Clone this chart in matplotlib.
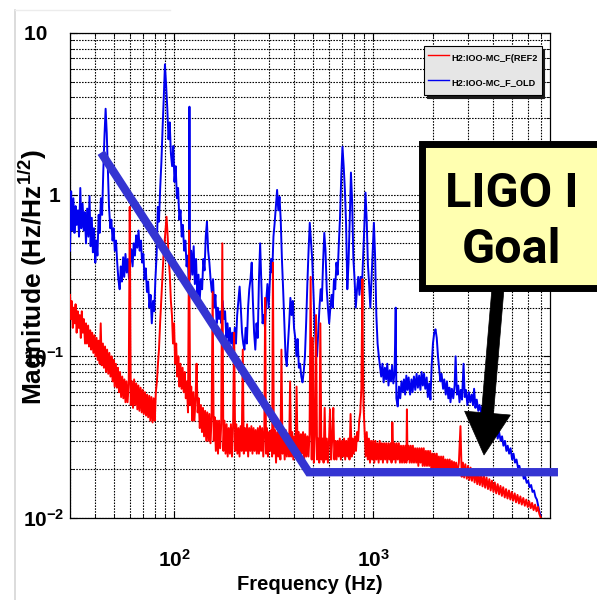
import numpy as np
import matplotlib
matplotlib.use("Agg")
import matplotlib.pyplot as plt
from matplotlib.patches import Rectangle, Polygon
from matplotlib.lines import Line2D
from matplotlib.ticker import LogLocator, NullFormatter

plt.rcParams['mathtext.fontset'] = 'custom'
plt.rcParams['mathtext.rm'] = 'Liberation Sans:bold'
plt.rcParams['mathtext.it'] = 'Liberation Sans:bold'
plt.rcParams['mathtext.bf'] = 'Liberation Sans:bold'
plt.rcParams['font.family'] = ['Liberation Sans', 'DejaVu Sans']

# ---------------- data ----------------
old_trace = [  # H2:IOO-MC_F_OLD (blue): (frequency Hz, magnitude)
    (30.0, 0.45), (30.4, 1.05), (30.8, 0.60), (31.2, 0.95), (31.6, 0.58), (32.0, 0.85),
    (32.4, 0.65), (32.9, 0.80), (33.3, 0.55), (33.8, 1.10), (34.2, 0.62), (34.7, 0.88),
    (35.2, 0.60), (35.6, 0.78), (36.1, 0.50), (36.6, 0.82), (37.1, 0.55), (37.6, 0.98),
    (38.1, 0.48), (38.6, 0.72), (39.1, 0.44), (39.6, 0.62), (40.2, 0.38), (40.7, 0.52),
    (41.2, 0.42), (41.8, 0.75), (42.3, 0.58), (42.9, 0.95), (43.5, 0.75), (44.1, 1.40),
    (44.7, 2.30), (45.3, 3.40), (45.9, 2.40), (46.5, 1.40), (47.1, 0.85), (47.8, 0.62),
    (48.4, 0.70), (49.1, 0.52), (49.7, 0.62), (50.4, 0.45), (51.1, 0.52), (51.8, 0.38),
    (52.5, 0.30), (53.3, 0.26), (54.0, 0.36), (54.7, 0.29), (55.5, 0.41), (56.2, 0.31),
    (57.0, 0.43), (57.8, 0.33), (58.6, 0.40), (59.4, 0.30), (60.2, 0.38), (61.0, 0.46),
    (61.9, 0.36), (62.7, 0.50), (63.6, 0.42), (64.5, 0.56), (65.4, 0.47), (66.3, 0.60),
    (67.2, 0.45), (68.2, 0.52), (69.1, 0.38), (70.1, 0.43), (71.1, 0.30), (72.1, 0.35),
    (73.1, 0.25), (74.1, 0.29), (75.2, 0.20), (76.2, 0.24), (77.3, 0.16), (78.4, 0.22),
    (79.5, 0.19), (80.6, 0.30), (81.7, 0.42), (82.9, 0.84), (84.0, 0.68), (85.2, 1.10),
    (86.4, 1.60), (87.6, 2.60), (88.8, 4.00), (90.0, 6.40), (91.2, 4.80), (92.5, 3.40),
    (93.8, 2.20), (95.1, 2.80), (96.4, 1.80), (97.8, 1.50), (99.1, 2.00), (100.5, 1.20),
    (101.9, 1.50), (103.4, 0.95), (104.8, 1.10), (106.3, 0.70), (107.8, 0.80), (109.3, 0.55),
    (110.8, 0.65), (112.4, 0.45), (114.0, 0.52), (115.6, 0.36), (117.2, 0.42), (118.8, 0.26),
    (119.5, 3.50), (120.3, 0.30), (122.0, 0.45), (123.7, 0.32), (125.5, 0.48), (127.2, 0.28),
    (129.0, 0.40), (130.8, 0.24), (132.7, 0.32), (134.5, 0.22), (136.4, 0.30), (138.4, 0.26),
    (140.3, 0.40), (142.3, 0.34), (144.3, 0.55), (146.3, 0.68), (148.4, 0.45), (150.5, 0.38),
    (152.6, 0.30), (154.8, 0.25), (157.0, 0.30), (159.2, 0.20), (161.4, 0.24), (163.7, 0.16),
    (166.0, 0.20), (168.3, 0.17), (170.7, 0.19), (173.1, 0.16), (175.5, 0.22), (178.0, 0.17),
    (180.5, 0.19), (183.1, 0.13), (185.6, 0.16), (188.3, 0.12), (190.9, 0.15), (193.6, 0.12),
    (196.3, 0.14), (199.1, 0.11), (201.9, 0.15), (204.7, 0.12), (207.6, 0.18), (210.5, 0.22),
    (213.5, 0.27), (216.5, 0.20), (219.6, 0.14), (222.7, 0.12), (225.8, 0.11), (229.0, 0.15),
    (232.2, 0.12), (235.5, 0.20), (238.8, 0.26), (242.2, 0.30), (245.6, 0.38), (249.0, 0.22),
    (252.5, 0.14), (256.1, 0.11), (259.7, 0.16), (263.4, 0.13), (267.1, 0.30), (270.8, 0.50),
    (274.7, 0.28), (278.5, 0.16), (282.5, 0.18), (286.5, 0.15), (290.5, 0.22), (294.6, 0.28),
    (298.7, 0.20), (302.9, 0.29), (307.2, 0.40), (311.5, 0.33), (315.9, 0.55), (320.4, 0.67),
    (324.9, 0.85), (329.5, 1.07), (334.1, 0.80), (338.8, 0.97), (343.6, 0.70), (348.4, 0.40),
    (353.3, 0.26), (358.3, 0.16), (363.4, 0.10), (368.5, 0.087), (373.7, 0.12), (379.0, 0.16),
    (384.3, 0.23), (389.7, 0.18), (395.2, 0.22), (400.8, 0.15), (406.5, 0.13), (412.2, 0.10),
    (418.0, 0.128), (423.9, 0.085), (429.9, 0.09), (436.0, 0.075), (442.1, 0.069), (448.3, 0.08),
    (454.7, 0.10), (461.1, 0.16), (467.6, 0.28), (474.2, 0.45), (480.9, 0.67), (487.7, 0.52),
    (494.5, 0.40), (501.5, 0.25), (508.6, 0.16), (515.8, 0.12), (523.1, 0.10), (530.4, 0.14),
    (537.9, 0.20), (545.5, 0.26), (553.2, 0.22), (561.0, 0.38), (568.9, 0.58), (577.0, 0.45),
    (585.1, 0.26), (593.4, 0.20), (601.8, 0.16), (610.3, 0.20), (618.9, 0.24), (627.6, 0.20),
    (636.5, 0.30), (645.5, 0.26), (654.6, 0.38), (663.8, 0.32), (673.2, 0.50), (682.7, 0.73),
    (692.3, 1.30), (702.1, 1.98), (712.0, 1.50), (722.0, 1.07), (732.2, 0.65), (742.6, 0.26),
    (753.1, 0.38), (763.7, 0.70), (774.5, 1.37), (785.4, 0.90), (796.5, 0.40), (807.7, 0.30),
    (819.1, 0.20), (830.7, 0.26), (842.4, 0.31), (854.3, 0.24), (866.3, 0.31), (878.5, 0.26),
    (891.0, 0.40), (903.5, 0.62), (916.3, 1.03), (929.2, 0.70), (942.3, 0.37), (955.6, 0.28),
    (969.1, 0.20), (982.7, 0.30), (996.6, 0.45), (1010, 0.67), (1025, 0.40), (1039, 0.18),
    (1054, 0.12), (1069, 0.10), (1084, 0.087), (1099, 0.075), (1115, 0.090), (1131, 0.069),
    (1147, 0.085), (1163, 0.072), (1179, 0.090), (1196, 0.066), (1213, 0.082), (1230, 0.070),
    (1247, 0.088), (1265, 0.068), (1283, 0.080), (1300, 0.20), (1310, 0.055), (1330, 0.049),
    (1350, 0.065), (1370, 0.055), (1390, 0.070), (1410, 0.060), (1430, 0.072), (1450, 0.058),
    (1470, 0.076), (1490, 0.062), (1510, 0.074), (1535, 0.058), (1560, 0.072), (1580, 0.060),
    (1605, 0.075), (1630, 0.062), (1655, 0.078), (1680, 0.064), (1705, 0.076), (1730, 0.062),
    (1755, 0.080), (1780, 0.066), (1805, 0.078), (1830, 0.063), (1860, 0.074), (1885, 0.056),
    (1915, 0.068), (1943, 0.054), (1970, 0.087), (2000, 0.12), (2030, 0.14), (2060, 0.147),
    (2090, 0.13), (2120, 0.10), (2150, 0.083), (2180, 0.070), (2210, 0.078), (2250, 0.063),
    (2280, 0.072), (2320, 0.058), (2350, 0.070), (2390, 0.055), (2420, 0.064), (2450, 0.052),
    (2490, 0.063), (2530, 0.055), (2570, 0.066), (2600, 0.10), (2640, 0.058), (2680, 0.066),
    (2720, 0.052), (2760, 0.062), (2800, 0.054), (2850, 0.09), (2890, 0.056), (2930, 0.062),
    (2980, 0.050), (3030, 0.060), (3080, 0.052), (3130, 0.058), (3180, 0.050), (3220, 0.063),
    (3270, 0.048), (3320, 0.054), (3380, 0.046), (3430, 0.050), (3490, 0.045), (3540, 0.049),
    (3600, 0.042), (3660, 0.046), (3720, 0.040), (3780, 0.044), (3840, 0.037), (3900, 0.041),
    (3970, 0.035), (4030, 0.038), (4100, 0.033), (4170, 0.036), (4230, 0.031), (4300, 0.034),
    (4380, 0.030), (4450, 0.032), (4520, 0.028), (4600, 0.030), (4680, 0.026), (4750, 0.028),
    (4830, 0.025), (4910, 0.027), (5000, 0.023), (5080, 0.025), (5170, 0.022), (5260, 0.023),
    (5350, 0.0205), (5440, 0.021), (5530, 0.0188), (5630, 0.0195), (5720, 0.0175), (5820, 0.018),
    (5920, 0.0165), (6020, 0.0170), (6120, 0.0155), (6230, 0.0160), (6330, 0.0145), (6440, 0.0148),
    (6550, 0.0135), (6660, 0.0130), (6750, 0.0120), (6850, 0.0110), (6950, 0.0104),
]

ref_trace = [  # H2:IOO-MC_F(REF2 (red): (frequency Hz, magnitude)
    (30.0, 0.24), (30.3, 0.17), (30.6, 0.22), (31.0, 0.15), (31.3, 0.20), (31.7, 0.16),
    (32.0, 0.21), (32.4, 0.14), (32.8, 0.19), (33.2, 0.15), (33.6, 0.18), (34.0, 0.13),
    (34.4, 0.19), (34.8, 0.14), (35.2, 0.17), (35.7, 0.12), (36.1, 0.16), (36.5, 0.12),
    (37.0, 0.155), (37.4, 0.115), (37.9, 0.145), (38.3, 0.11), (38.8, 0.14), (39.3, 0.105),
    (39.8, 0.135), (40.3, 0.10), (40.8, 0.13), (41.3, 0.095), (41.8, 0.125), (42.3, 0.09),
    (42.8, 0.16), (43.3, 0.088), (43.9, 0.12), (44.4, 0.085), (45.0, 0.115), (45.5, 0.08),
    (46.1, 0.11), (46.7, 0.078), (47.3, 0.105), (47.9, 0.075), (48.5, 0.10), (49.1, 0.07),
    (49.7, 0.095), (50.3, 0.065), (51.0, 0.09), (51.6, 0.064), (52.2, 0.085), (52.9, 0.06),
    (53.5, 0.08), (54.2, 0.056), (54.9, 0.075), (55.6, 0.055), (56.3, 0.072), (57.0, 0.052),
    (57.7, 0.07), (58.4, 0.052), (59.2, 0.068), (59.9, 0.84), (60.6, 0.05), (61.4, 0.07),
    (62.2, 0.048), (63.0, 0.072), (63.8, 0.05), (64.6, 0.068), (65.4, 0.047), (66.2, 0.066),
    (67.0, 0.046), (67.9, 0.064), (68.8, 0.045), (69.6, 0.062), (70.5, 0.044), (71.4, 0.06),
    (72.3, 0.043), (73.2, 0.058), (74.1, 0.042), (75.1, 0.057), (76.0, 0.040), (77.0, 0.056),
    (78.0, 0.039), (79.0, 0.055), (80.0, 0.040), (81.0, 0.060), (82.0, 0.070), (83.0, 0.090),
    (84.0, 0.11), (85.1, 0.16), (86.2, 0.22), (87.3, 0.30), (88.4, 0.41), (89.5, 0.50),
    (90.6, 0.60), (91.7, 0.73), (92.9, 0.55), (94.0, 0.40), (95.2, 0.32), (96.4, 0.22),
    (97.6, 0.18), (98.8, 0.12), (100.0, 0.16), (101.3, 0.09), (102.5, 0.12), (103.8, 0.075),
    (105.1, 0.10), (106.4, 0.065), (107.7, 0.09), (109.1, 0.063), (110.4, 0.085), (111.8, 0.06),
    (113.2, 0.08), (114.6, 0.055), (116.0, 0.07), (117.5, 0.045), (119.0, 0.60), (120.5, 0.05),
    (122.0, 0.065), (123.5, 0.04), (125.0, 0.06), (126.6, 0.04), (128.2, 0.055), (129.8, 0.09),
    (131.4, 0.045), (133.0, 0.055), (134.7, 0.036), (136.4, 0.05), (138.1, 0.034), (139.8, 0.048),
    (141.5, 0.032), (143.3, 0.046), (145.1, 0.030), (146.9, 0.045), (148.8, 0.030), (150.6, 0.044),
    (152.5, 0.029), (154.4, 0.042), (156.3, 0.25), (158.3, 0.030), (160.2, 0.042), (162.2, 0.026),
    (164.3, 0.040), (166.3, 0.025), (168.4, 0.040), (170.5, 0.027), (172.6, 0.038), (174.8, 0.50),
    (177.0, 0.026), (179.2, 0.040), (181.4, 0.025), (183.7, 0.038), (186.0, 0.024), (188.3, 0.036),
    (190.7, 0.025), (193.1, 0.038), (195.5, 0.024), (198.0, 0.037), (200.4, 0.14), (203.0, 0.026),
    (205.5, 0.038), (208.1, 0.025), (210.7, 0.036), (213.3, 0.024), (216.0, 0.037), (218.7, 0.026),
    (221.5, 0.11), (224.2, 0.025), (227.1, 0.036), (229.9, 0.026), (232.8, 0.038), (235.7, 0.024),
    (238.7, 0.036), (241.7, 0.026), (244.7, 0.037), (247.8, 0.025), (250.9, 0.036), (254.0, 0.026),
    (257.2, 0.035), (260.5, 0.025), (263.7, 0.036), (267.1, 0.025), (270.4, 0.037), (273.8, 0.026),
    (277.3, 0.036), (280.8, 0.024), (284.3, 0.035), (287.0, 0.23), (290.0, 0.025), (293.0, 0.036),
    (296.5, 0.024), (300.2, 0.034), (304.0, 0.026), (307.8, 0.035), (311.0, 0.024), (314.0, 0.38),
    (317.5, 0.025), (321.5, 0.035), (325.5, 0.022), (329.6, 0.034), (333.8, 0.024), (338.0, 0.035),
    (342.2, 0.023), (346.5, 0.11), (350.9, 0.025), (355.3, 0.034), (359.7, 0.023), (364.2, 0.035),
    (368.8, 0.024), (373.5, 0.033), (378.2, 0.024), (383.0, 0.07), (387.8, 0.024), (392.7, 0.034),
    (397.6, 0.023), (402.6, 0.032), (407.7, 0.024), (412.8, 0.065), (418.0, 0.024), (423.3, 0.034),
    (428.6, 0.023), (434.0, 0.033), (439.5, 0.025), (445.0, 0.034), (450.6, 0.023), (456.3, 0.033),
    (462.0, 0.024), (467.8, 0.032), (473.7, 0.024), (479.7, 0.033), (485.7, 0.31), (491.8, 0.023),
    (498.0, 0.13), (504.3, 0.022), (510.6, 0.032), (517.0, 0.18), (523.5, 0.023), (530.1, 0.031),
    (536.8, 0.022), (543.5, 0.16), (550.3, 0.023), (557.2, 0.031), (564.2, 0.022), (571.3, 0.048),
    (578.5, 0.023), (585.8, 0.031), (593.1, 0.022), (600.6, 0.030), (608.1, 0.047), (615.8, 0.023),
    (623.5, 0.031), (631.4, 0.048), (639.3, 0.023), (647.3, 0.030), (655.5, 0.023), (663.7, 0.030),
    (672.1, 0.024), (680.5, 0.031), (689.1, 0.023), (697.8, 0.030), (706.5, 0.024), (715.4, 0.031),
    (724.4, 0.023), (733.5, 0.030), (742.7, 0.024), (752.1, 0.031), (761.5, 0.023), (771.1, 0.044),
    (780.8, 0.024), (790.6, 0.031), (800.5, 0.025), (810.6, 0.032), (820.8, 0.026), (831.1, 0.034),
    (841.5, 0.030), (852.1, 0.040), (862.8, 0.045), (873.6, 0.063), (884.6, 0.30), (890.0, 0.09),
    (895.7, 0.05), (906.9, 0.035), (918.3, 0.024), (929.9, 0.034), (941.5, 0.023), (953.4, 0.031),
    (965.4, 0.022), (977.5, 0.030), (989.8, 0.023), (1002, 0.030), (1015, 0.022), (1028, 0.030),
    (1040, 0.023), (1053, 0.029), (1067, 0.022), (1080, 0.030), (1094, 0.023), (1107, 0.029),
    (1121, 0.022), (1136, 0.029), (1150, 0.023), (1164, 0.029), (1179, 0.022), (1194, 0.029),
    (1209, 0.023), (1224, 0.029), (1239, 0.022), (1250, 0.039), (1266, 0.023), (1282, 0.029),
    (1298, 0.022), (1314, 0.029), (1331, 0.023), (1348, 0.029), (1365, 0.022), (1382, 0.028),
    (1399, 0.022), (1417, 0.028), (1435, 0.022), (1453, 0.028), (1471, 0.022), (1480, 0.047),
    (1490, 0.023), (1509, 0.028), (1528, 0.022), (1547, 0.028), (1567, 0.022), (1586, 0.028),
    (1606, 0.022), (1627, 0.027), (1647, 0.022), (1668, 0.027), (1689, 0.021), (1710, 0.027),
    (1732, 0.022), (1754, 0.027), (1776, 0.021), (1798, 0.027), (1821, 0.021), (1844, 0.026),
    (1867, 0.021), (1890, 0.026), (1914, 0.021), (1938, 0.026), (1963, 0.020), (1987, 0.025),
    (2012, 0.020), (2038, 0.025), (2064, 0.020), (2090, 0.025), (2116, 0.020), (2143, 0.024),
    (2170, 0.0195), (2197, 0.024), (2225, 0.0195), (2253, 0.024), (2281, 0.019), (2310, 0.023),
    (2339, 0.019), (2368, 0.023), (2398, 0.019), (2428, 0.023), (2459, 0.0188), (2490, 0.0225),
    (2521, 0.0188), (2553, 0.0222), (2585, 0.0186), (2617, 0.022), (2650, 0.0185), (2700, 0.022),
    (2750, 0.037), (2790, 0.018), (2830, 0.022), (2870, 0.0178), (2910, 0.0215), (2960, 0.0175),
    (3000, 0.021), (3050, 0.0172), (3090, 0.0205), (3140, 0.017), (3190, 0.020), (3240, 0.0166),
    (3290, 0.0195), (3340, 0.0162), (3390, 0.019), (3440, 0.016), (3500, 0.0186), (3550, 0.0157),
    (3610, 0.0182), (3660, 0.0154), (3720, 0.0178), (3780, 0.0151), (3840, 0.0174), (3900, 0.0148),
    (3960, 0.017), (4030, 0.0145), (4090, 0.0166), (4160, 0.0142), (4230, 0.0162), (4300, 0.014),
    (4370, 0.0158), (4440, 0.0137), (4510, 0.0155), (4590, 0.0134), (4660, 0.0151), (4740, 0.0132),
    (4820, 0.0148), (4900, 0.013), (4980, 0.0145), (5060, 0.0128), (5150, 0.0142), (5230, 0.0125),
    (5320, 0.0139), (5410, 0.0123), (5500, 0.0136), (5590, 0.0121), (5690, 0.0133), (5790, 0.0119),
    (5890, 0.013), (5990, 0.0117), (6090, 0.0127), (6200, 0.0115), (6300, 0.0124), (6410, 0.0112),
    (6520, 0.0121), (6630, 0.011), (6740, 0.0117), (6850, 0.0106), (6950, 0.0101),
]

goal_freq = [43, 475, 8500]          # LIGO I goal line (Hz)
goal_mag = [1.82, 0.0192, 0.0192]

legend_labels = ['H2:IOO-MC_F(REF2', 'H2:IOO-MC_F_OLD']
xtick_vals = [100, 1000]
xtick_labels = [r'$10^{2}$', r'$10^{3}$']
ytick_vals = [0.01, 0.1, 1, 10]
ytick_labels = [r'$10^{-2}$', r'$10^{-1}$', '1\u2009', '10   ']

# ---------------- figure ----------------
W, H = 597, 600
fig = plt.figure(figsize=(W / 100, H / 100), dpi=100)
fig.patch.set_facecolor('white')

def fx(px):
    return px / W

def fy(py):
    return 1 - py / H

ax = fig.add_axes([fx(70), fy(518), fx(550) - fx(70), fy(33) - fy(518)])
ax.set_xscale('log')
ax.set_yscale('log')
ax.set_xlim(30, 7750)
ax.set_ylim(0.01, 10)

bf, bv = np.array(old_trace).T
rf, rv = np.array(ref_trace).T
l_blue, = ax.plot(bf, bv, color='#0000f0', lw=1.4, zorder=3)
l_red, = ax.plot(rf, rv, color='#ff0000', lw=1.4, zorder=4)
ax.plot(goal_freq, goal_mag, color='#3434d2', lw=6, solid_capstyle='butt',
        solid_joinstyle='miter', clip_on=False, zorder=6)

# grid & ticks
ax.xaxis.set_minor_locator(LogLocator(base=10, subs=np.arange(2, 10), numticks=20))
ax.yaxis.set_minor_locator(LogLocator(base=10, subs=np.arange(2, 10), numticks=20))
ax.xaxis.set_minor_formatter(NullFormatter())
ax.yaxis.set_minor_formatter(NullFormatter())
ax.set_xticks(xtick_vals)
ax.set_xticklabels(xtick_labels)
ax.set_yticks(ytick_vals)
ax.set_yticklabels(ytick_labels)
ax.grid(True, which='both', color='black', linestyle=(0, (1.4, 1.2)), lw=0.8, zorder=1)
ax.set_axisbelow(True)
ax.tick_params(which='both', direction='in', top=True, right=True, color='black')
ax.tick_params(which='major', length=5, width=0.8)
ax.tick_params(which='minor', length=3, width=0.6)
ax.tick_params(axis='x', which='major', pad=22, labelsize=15)
ax.tick_params(axis='y', which='major', pad=4, labelsize=15)
for t in ax.get_xticklabels() + ax.get_yticklabels():
    t.set_fontweight('bold')
    t.set_family(['Liberation Sans', 'DejaVu Sans'])
for s in ax.spines.values():
    s.set_color('black')
    s.set_linewidth(0.9)

ax.set_xlabel('Frequency (Hz)', fontsize=14.5, fontweight='bold', va='center')
ax.xaxis.set_label_coords(0.5, (518 - 584) / 485)
ax.set_ylabel(r'Magnitude (Hz/Hz$^{1/2}$)', fontsize=19, fontweight='bold', va='center')
ax.yaxis.set_label_coords((33 - 70) / 480, 1 - (277 - 33) / 485)

leg = ax.legend([l_red, l_blue], legend_labels, loc='upper left',
                bbox_to_anchor=((424 - 70) / 480, 1 - (46 - 33) / 485),
                borderaxespad=0, prop=dict(family='Liberation Sans', weight='bold', size=6.6),
                frameon=True, fancybox=False, shadow={'color': '#1a1a1a', 'alpha': 1},
                facecolor='#e6e6e6', edgecolor='black', framealpha=1,
                borderpad=0.4, labelspacing=0.8, handlelength=2.3, handleheight=2.5,
                handletextpad=0.3)
leg.get_frame().set_linewidth(0.8)
for h in leg.legend_handles:
    h.set_linewidth(1.0)
leg.set_zorder(10)

# annotation: yellow "LIGO I Goal" box and arrow (figure pixel layout)
box = Rectangle((fx(421.5), fy(288)), fx(640) - fx(421.5), fy(144) - fy(288),
                transform=fig.transFigure, facecolor='#ffffb0', edgecolor='black',
                lw=5, clip_on=False, zorder=20)
fig.add_artist(box)
for txt, base in [('LIGO I', 207), ('Goal', 263)]:
    fig.text(fx(512), fy(base), txt, ha='center', va='baseline', fontsize=35,
             fontweight='bold', family=['Liberation Sans Narrow', 'Roboto', 'DejaVu Sans'],
             zorder=21)

arrow_px = [(492.0, 287.5), (481.5, 412.6), (464.6, 411.2), (484.0, 455.0),
            (510.4, 415.0), (493.5, 413.6), (504.0, 288.5)]
arrow = Polygon([(fx(x), fy(y)) for x, y in arrow_px], closed=True,
                transform=fig.transFigure, facecolor='black', edgecolor='black',
                lw=0.5, zorder=19)
fig.add_artist(arrow)

# faint slide border
fig.add_artist(Line2D([fx(15), fx(15)], [0, fy(10)], transform=fig.transFigure,
                      color='#d6d6d6', lw=1.2))
fig.add_artist(Line2D([fx(15), fx(170)], [fy(10), fy(10)], transform=fig.transFigure,
                      color='#ececec', lw=1.0))

fig.savefig('out.png', dpi=100)
